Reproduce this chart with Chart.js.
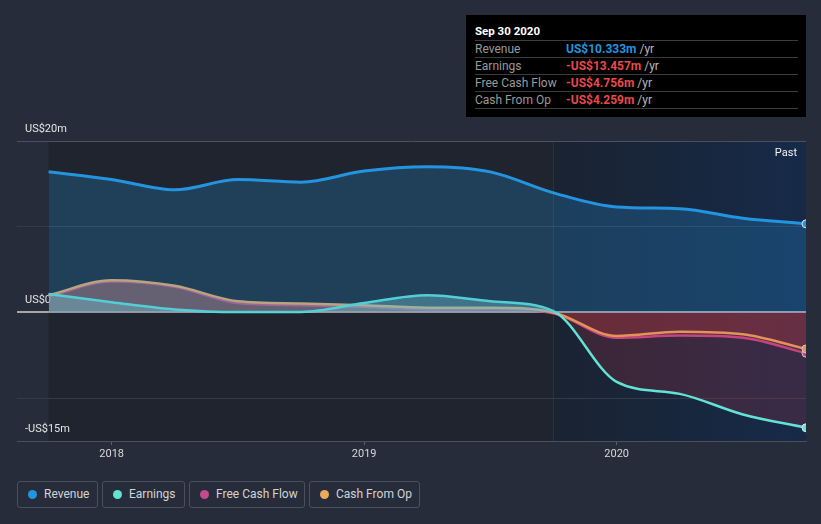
<!DOCTYPE html>
<html>
<head>
<meta charset="utf-8">
<script src="https://cdn.jsdelivr.net/npm/chart.js@4.4.1/dist/chart.umd.min.js"></script>
<style>
html,body{margin:0;padding:0;background:#262c39;width:821px;height:524px;overflow:hidden;font-family:Roboto,"Noto Sans",sans-serif;}
#wrap{position:absolute;left:0;top:0;width:821px;height:470px;}
#past{position:absolute;left:760px;width:37px;text-align:right;top:146px;line-height:14px;color:#f2f2f2;font-size:11px;}
#tip{position:absolute;left:466px;top:15px;width:340px;height:102px;background:#000;}
#tip .title{position:absolute;left:9px;top:9px;line-height:14px;font-size:11.5px;font-weight:bold;color:#fff;}
#tip .row{position:absolute;left:9px;width:323px;height:16px;border-top:1px solid #3c3c3c;font-size:12px;line-height:16px;}
#tip .row.last{height:0;}
#tip .lab{position:absolute;left:0;color:#9a9a9a;}
#tip .val{position:absolute;left:91px;font-weight:bold;}
#tip .unit{color:#b8b8b8;font-weight:normal;}
.leg{position:absolute;top:481px;height:25px;border:1px solid #4a505c;border-radius:3px;box-sizing:content-box;color:#d2d4d8;font-size:12px;line-height:25px;}
.leg .dot{position:absolute;left:10px;top:8px;width:9px;height:9px;border-radius:50%;}
.leg .txt{position:absolute;left:26px;white-space:nowrap;}
</style>
</head>
<body>
<div id="wrap"><canvas id="c" width="821" height="470"></canvas></div>
<div id="past">Past</div>
<div id="tip">
  <div class="title">Sep 30 2020</div>
  <div class="row" style="top:25px"><span class="lab">Revenue</span><span class="val" style="color:#2394df">US$10.333m <span class="unit">/yr</span></span></div>
  <div class="row" style="top:42px"><span class="lab">Earnings</span><span class="val" style="color:#e8494b">-US$13.457m <span class="unit">/yr</span></span></div>
  <div class="row" style="top:59px"><span class="lab">Free Cash Flow</span><span class="val" style="color:#e8494b">-US$4.756m <span class="unit">/yr</span></span></div>
  <div class="row" style="top:76px"><span class="lab">Cash From Op</span><span class="val" style="color:#e8494b">-US$4.259m <span class="unit">/yr</span></span></div>
  <div class="row last" style="top:93px"></div>
</div>
<div class="leg" style="left:17px;width:79px"><span class="dot" style="background:#2394df"></span><span class="txt">Revenue</span></div>
<div class="leg" style="left:102px;width:81px"><span class="dot" style="background:#62e3d3"></span><span class="txt">Earnings</span></div>
<div class="leg" style="left:189px;width:114px"><span class="dot" style="background:#c44a8c"></span><span class="txt">Free Cash Flow</span></div>
<div class="leg" style="left:309px;width:109px"><span class="dot" style="background:#eaaa5e"></span><span class="txt">Cash From Op</span></div>
<script>
// Period ends (decimal years, quarterly: Sep 30 2017 ... Sep 30 2020)
const periods = [2017.75, 2018.0, 2018.25, 2018.5, 2018.75, 2019.0, 2019.25, 2019.5, 2019.75, 2020.0, 2020.25, 2020.5, 2020.75];
// Values in US$ millions (trailing twelve months)
const revenue      = [16.4, 15.5, 14.3, 15.5, 15.2, 16.5, 17.0, 16.4, 13.95, 12.3, 12.1, 11.0, 10.333];
const earnings     = [2.15, 1.2, 0.35, 0.05, 0.05, 1.1, 2.0, 1.3, 0.15, -8.1, -9.5, -11.9, -13.457];
const freeCashFlow = [1.9, 3.6, 3.0, 1.1, 0.85, 0.65, 0.35, 0.4, -0.1, -2.95, -2.7, -2.95, -4.756];
const cashFromOp   = [2.0, 3.75, 3.1, 1.3, 1.05, 0.85, 0.55, 0.55, 0.0, -2.75, -2.25, -2.55, -4.259];
const yearTicks = [2018, 2019, 2020];
const yGridValues = [-15, -10, 0, 10, 20];
const yTickLabels = {'-15': '-US$15m', '0': 'US$0', '20': 'US$20m'};
const pastStart = 2019.75;

const pts = arr => periods.map((x, i) => ({x: x, y: arr[i]}));
const lastIdx = periods.length - 1;
const endPoint = ctx => ctx.dataIndex === lastIdx ? 4 : 0;

const bgPlugin = {
  id: 'bg',
  beforeDraw(chart) {
    const {ctx, chartArea: a, scales: {x}} = chart;
    const x0 = x.getPixelForValue(periods[0]);
    const x1 = x.getPixelForValue(pastStart);
    ctx.save();
    ctx.fillStyle = '#1f242e';
    ctx.fillRect(x0, a.top, x1 - x0, a.bottom - a.top);
    const g = ctx.createLinearGradient(x1, 0, a.right, 0);
    g.addColorStop(0, '#1a2332');
    g.addColorStop(1, '#162a48');
    ctx.fillStyle = g;
    ctx.fillRect(x1, a.top, a.right - x1, a.bottom - a.top);
    ctx.fillStyle = 'rgba(45,85,140,0.35)';
    ctx.fillRect(Math.round(x1) - 1, a.top, 1, a.bottom - a.top);
    ctx.restore();
  }
};

const common = {
  borderWidth: 2.5,
  cubicInterpolationMode: 'monotone',
  pointRadius: endPoint,
  pointHoverRadius: endPoint,
  pointBorderWidth: 1,
  pointBorderColor: '#dde6ee',
  clip: 0
};

new Chart(document.getElementById('c'), {
  type: 'line',
  data: {
    datasets: [
      Object.assign({}, common, {label: 'Revenue', data: pts(revenue), borderColor: '#2394df', pointBackgroundColor: '#2394df', borderWidth: 3,
        fill: {target: 'origin', above: 'rgba(35,148,223,0.25)', below: 'rgba(35,148,223,0.25)'}}),
      Object.assign({}, common, {label: 'Earnings', data: pts(earnings), borderColor: '#62e3d3', pointBackgroundColor: '#62e3d3',
        fill: {target: 'origin', above: 'rgba(140,215,205,0.38)', below: 'rgba(200,50,70,0.2)'}}),
      Object.assign({}, common, {label: 'Cash From Op', data: pts(cashFromOp), borderColor: '#eaaa5e', pointBackgroundColor: '#eaaa5e',
        fill: {target: 'origin', above: 'rgba(200,115,105,0.33)', below: 'rgba(220,60,64,0.16)'}}),
      Object.assign({}, common, {label: 'Free Cash Flow', data: pts(freeCashFlow), borderColor: '#c44a8c', pointBackgroundColor: '#c44a8c',
        fill: {target: 'origin', above: 'rgba(200,115,105,0.33)', below: 'rgba(220,60,64,0.16)'}})
    ]
  },
  options: {
    responsive: false,
    animation: false,
    events: [],
    layout: {padding: {left: 1, right: 15, top: 141, bottom: 7}},
    plugins: {legend: {display: false}, tooltip: {enabled: false}},
    scales: {
      x: {
        type: 'linear',
        min: 2017.625,
        max: 2020.75,
        afterBuildTicks: s => { s.ticks = yearTicks.map(v => ({value: v})); },
        ticks: {color: '#d8d8d8', font: {family: 'Roboto', size: 11, lineHeight: '14px'}, padding: 2, maxRotation: 0,
          callback: v => String(v)},
        grid: {drawOnChartArea: false, drawTicks: true, tickLength: 4, color: '#5a606c'},
        border: {display: true, color: '#4a505c', width: 1}
      },
      y: {
        min: -15,
        max: 20,
        afterBuildTicks: s => { s.ticks = yGridValues.map(v => ({value: v})); },
        ticks: {mirror: true, padding: 8, labelOffset: -12, color: '#e4e4e4', font: {family: 'Roboto', size: 11},
          callback: v => yTickLabels[String(v)] || ''},
        grid: {drawTicks: false,
          color: c => c.tick.value === 0 ? '#a6a6ab' : (c.tick.value === 20 ? '#4b515c' : (c.tick.value === -15 ? 'rgba(0,0,0,0)' : '#343a46')),
          lineWidth: c => c.tick.value === 0 ? 2 : 1},
        border: {display: false}
      }
    }
  },
  plugins: [bgPlugin]
});
</script>
</body>
</html>
